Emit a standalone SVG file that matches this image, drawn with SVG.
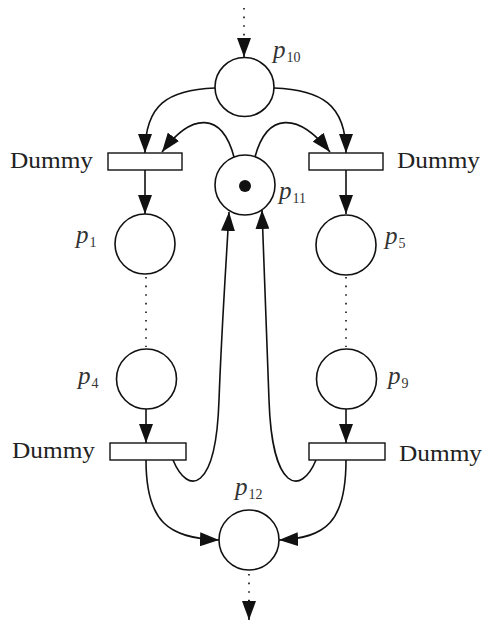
<svg xmlns="http://www.w3.org/2000/svg" width="489" height="621" viewBox="0 0 489 621">
  <style>
    .place { fill: #fff; stroke: #111; stroke-width: 1.6; }
    .trans { fill: #fff; stroke: #111; stroke-width: 1.4; }
    .arc { fill: none; stroke: #111; stroke-width: 1.6; }
    .dots { fill: none; stroke: #111; stroke-width: 1.6; stroke-dasharray: 1.6 7; }
    .lbl { font-family: "Liberation Serif", "Times New Roman", serif; font-size: 23px; fill: #222; }
    .pl { font-family: "Liberation Serif", "Times New Roman", serif; font-style: italic; font-size: 25px; fill: #333; }
    .sub { font-family: "Liberation Serif", "Times New Roman", serif; font-style: normal; font-size: 14px; fill: #333; }
  </style>
  <defs>
    <marker id="arrow" markerUnits="userSpaceOnUse" markerWidth="19" markerHeight="14" refX="19" refY="7" orient="auto">
      <path d="M0,0 L19,7 L0,14 z" fill="#111"/>
    </marker>
  </defs>

  <g id="connectors">
    <!-- inflow and outflow stubs -->
    <path class="dots" d="M244,8 L244,44"/>
    <path class="arc" d="M244,40 L244,57" marker-end="url(#arrow)"/>
    <path class="dots" d="M249,574 L249,604"/>
    <path class="arc" d="M249,600 L249,620" marker-end="url(#arrow)"/>

    <!-- p10 to the two upper transitions -->
    <path class="arc" d="M215,88 C168,90 145,104 145,153" marker-end="url(#arrow)"/>
    <path class="arc" d="M274,88 C321,90 346,104 346,153" marker-end="url(#arrow)"/>

    <!-- p11 to the two upper transitions -->
    <path class="arc" d="M234,157 C222,112 192,112 162,152" marker-end="url(#arrow)"/>
    <path class="arc" d="M255,157 C267,112 298,112 330,152" marker-end="url(#arrow)"/>

    <!-- upper transitions to p1 / p5 -->
    <path class="arc" d="M145,170 L145,214" marker-end="url(#arrow)"/>
    <path class="arc" d="M346,170 L346,214" marker-end="url(#arrow)"/>

    <!-- elided chains -->
    <path class="dots" d="M146,277 L146,347"/>
    <path class="dots" d="M346,277 L346,347"/>

    <!-- p4 / p9 to lower transitions -->
    <path class="arc" d="M146,409 L146,443" marker-end="url(#arrow)"/>
    <path class="arc" d="M346,409 L346,443" marker-end="url(#arrow)"/>

    <!-- lower transitions back to p11 -->
    <path class="arc" d="M173,460 C188,496 216,492 219,400 C222,320 227,250 229,212" marker-end="url(#arrow)"/>
    <path class="arc" d="M316,460 C301,496 272,492 269,400 C266,320 263,250 262,210" marker-end="url(#arrow)"/>

    <!-- lower transitions to p12 -->
    <path class="arc" d="M146,460 C146,522 168,538 219,540" marker-end="url(#arrow)"/>
    <path class="arc" d="M346,460 C346,522 326,538 279,540" marker-end="url(#arrow)"/>
  </g>

  <g id="p10">
    <circle class="place" cx="244.5" cy="87" r="29.5"/>
    <text class="pl" x="273" y="58">p<tspan class="sub" dx="1" dy="4">10</tspan></text>
  </g>
  <g id="p11">
    <circle class="place" cx="245" cy="185" r="30"/>
    <circle cx="245" cy="186" r="6" fill="#111"/>
    <text class="pl" x="279" y="199">p<tspan class="sub" dx="1" dy="4">11</tspan></text>
  </g>
  <g id="t-dummy-upper-left">
    <rect class="trans" x="108" y="153" width="74" height="17"/>
    <text class="lbl" x="10" y="168" textLength="83" lengthAdjust="spacingAndGlyphs">Dummy</text>
  </g>
  <g id="t-dummy-upper-right">
    <rect class="trans" x="309" y="153" width="74" height="17"/>
    <text class="lbl" x="397" y="168" textLength="83" lengthAdjust="spacingAndGlyphs">Dummy</text>
  </g>
  <g id="p1">
    <circle class="place" cx="145" cy="244" r="30"/>
    <text class="pl" x="76" y="243">p<tspan class="sub" dx="1" dy="4">1</tspan></text>
  </g>
  <g id="p5">
    <circle class="place" cx="346" cy="245" r="30"/>
    <text class="pl" x="385" y="244">p<tspan class="sub" dx="1" dy="4">5</tspan></text>
  </g>
  <g id="p4">
    <circle class="place" cx="146.5" cy="379" r="30"/>
    <text class="pl" x="78" y="384">p<tspan class="sub" dx="1" dy="4">4</tspan></text>
  </g>
  <g id="p9">
    <circle class="place" cx="346.5" cy="379" r="30"/>
    <text class="pl" x="388" y="384">p<tspan class="sub" dx="1" dy="4">9</tspan></text>
  </g>
  <g id="t-dummy-lower-left">
    <rect class="trans" x="110" y="443" width="76" height="17"/>
    <text class="lbl" x="12" y="458" textLength="83" lengthAdjust="spacingAndGlyphs">Dummy</text>
  </g>
  <g id="t-dummy-lower-right">
    <rect class="trans" x="309" y="443" width="76" height="17"/>
    <text class="lbl" x="399" y="461" textLength="83" lengthAdjust="spacingAndGlyphs">Dummy</text>
  </g>
  <g id="p12">
    <circle class="place" cx="249" cy="540" r="30"/>
    <text class="pl" x="235" y="495">p<tspan class="sub" dx="1" dy="4">12</tspan></text>
  </g>
</svg>
